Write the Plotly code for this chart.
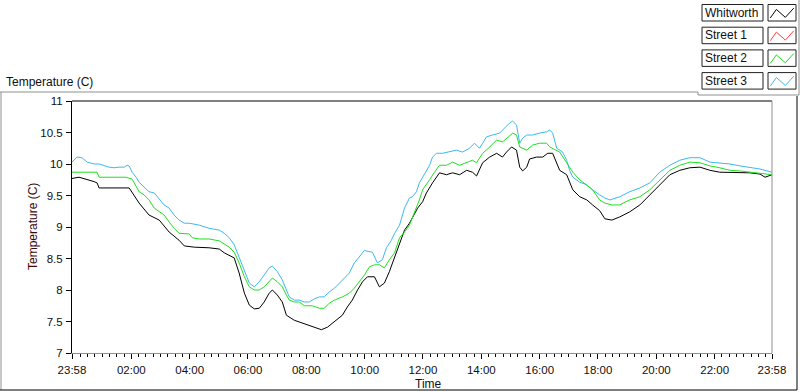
import plotly.graph_objects as go

# ---------------- data (hours elapsed since 23:58, temperature in C) ----------------
series_names = ["Whitworth", "Street 1", "Street 2", "Street 3"]
series_colors = ["#000000", "#ff3c3c", "#1ee01e", "#3cb8f5"]

whit_t = [0, 0.24, 0.76, 0.86, 0.93, 1.96, 2.30, 2.64, 2.99, 3.33, 3.67, 3.85, 4.19, 4.70, 5.05, 5.22,
          5.56, 5.73, 5.91, 6.08, 6.25, 6.42, 6.59, 6.76, 6.87, 7.04, 7.21, 7.35, 7.62, 7.97, 8.31, 8.55,
          8.76, 9.00, 9.27, 9.44, 9.61, 9.79, 9.96, 10.13, 10.37, 10.54, 10.71, 10.88, 11.06, 11.23, 11.40,
          11.57, 11.85, 12.02, 12.15, 12.36, 12.60, 12.84, 13.05, 13.29, 13.53, 13.73, 13.87, 14.08, 14.32,
          14.56, 14.76, 14.90, 15.07, 15.24, 15.35, 15.45, 15.59, 15.69, 15.93, 16.14, 16.31, 16.48, 16.62,
          16.72, 16.96, 17.17, 17.41, 17.65, 17.85, 18.09, 18.27, 18.51, 18.78, 19.12, 19.47, 19.81, 20.15,
          20.50, 20.84, 21.18, 21.53, 21.87, 22.21, 22.56, 22.90, 23.24, 23.59, 23.76, 24.0]
whit_v = [9.77, 9.79, 9.72, 9.70, 9.62, 9.62, 9.38, 9.19, 9.11, 8.92, 8.79, 8.70, 8.68, 8.67, 8.65, 8.59,
          8.51, 8.27, 7.95, 7.76, 7.70, 7.71, 7.81, 7.95, 8.00, 7.92, 7.81, 7.60, 7.52, 7.46, 7.40, 7.37,
          7.41, 7.50, 7.60, 7.73, 7.84, 8.00, 8.13, 8.21, 8.21, 8.05, 8.11, 8.29, 8.52, 8.75, 8.95,
          9.06, 9.30, 9.40, 9.54, 9.70, 9.86, 9.83, 9.86, 9.83, 9.90, 9.87, 9.81, 10.02, 10.11,
          10.17, 10.11, 10.19, 10.27, 10.22, 9.95, 9.89, 9.95, 10.08, 10.11, 10.11, 10.17, 10.17, 10.02,
          9.90, 9.83, 9.59, 9.48, 9.43, 9.35, 9.26, 9.13, 9.11, 9.16, 9.24, 9.35, 9.51, 9.67,
          9.83, 9.90, 9.94, 9.95, 9.90, 9.87, 9.87, 9.86, 9.86, 9.84, 9.79, 9.83]

street1_t = []
street1_v = []

street2_t = [0, 0.86, 0.93, 1.85, 2.06, 2.13, 2.30, 2.47, 2.64, 2.82, 2.99, 3.16, 3.33, 3.50, 3.67, 4.02,
             4.12, 4.36, 4.70, 5.05, 5.22, 5.39, 5.56, 5.73, 5.91, 6.08, 6.25, 6.42, 6.59, 6.76, 6.87,
             7.04, 7.21, 7.35, 7.45, 7.62, 7.79, 7.97, 8.24, 8.48, 8.65, 8.82, 9.00, 9.27, 9.51, 9.68,
             9.85, 10.03, 10.20, 10.37, 10.54, 10.71, 10.88, 11.06, 11.23, 11.40, 11.57, 11.81, 11.91,
             12.02, 12.15, 12.26, 12.43, 12.60, 12.84, 13.05, 13.29, 13.53, 13.73, 13.87, 14.08, 14.32,
             14.56, 14.76, 14.90, 15.11, 15.24, 15.35, 15.59, 15.79, 16.03, 16.27, 16.38, 16.48, 16.72,
             16.96, 17.17, 17.41, 17.65, 17.85, 18.09, 18.27, 18.51, 18.78, 19.12, 19.47, 19.81, 20.15,
             20.50, 20.84, 21.18, 21.53, 21.87, 22.21, 22.56, 22.90, 23.24, 23.59, 24.0]
street2_v = [9.87, 9.87, 9.79, 9.79, 9.76, 9.70, 9.56, 9.51, 9.43, 9.30, 9.24, 9.19, 9.08, 8.98, 8.90, 8.89,
             8.83, 8.81, 8.81, 8.78, 8.73, 8.68, 8.60, 8.43, 8.21, 8.05, 8.00, 8.00, 8.05, 8.13, 8.19,
             8.13, 8.05, 7.92, 7.84, 7.81, 7.81, 7.75, 7.75, 7.71, 7.71, 7.79, 7.84, 7.89, 7.95, 8.03,
             8.13, 8.24, 8.37, 8.40, 8.40, 8.35, 8.48, 8.59, 8.83, 8.92, 9.03, 9.30, 9.43,
             9.59, 9.67, 9.75, 9.87, 9.98, 9.98, 10.03, 9.98, 10.02, 10.06, 10.02, 10.17, 10.27,
             10.38, 10.35, 10.41, 10.49, 10.46, 10.27, 10.22, 10.30, 10.33, 10.33, 10.27, 10.25, 10.19,
             10.02, 9.87, 9.75, 9.67, 9.59, 9.43, 9.38, 9.35, 9.35, 9.43, 9.48, 9.59, 9.75,
             9.90, 9.98, 10.03, 10.02, 9.97, 9.94, 9.90, 9.89, 9.87, 9.86, 9.83]

street3_t = [0, 0.17, 0.34, 0.52, 0.76, 0.93, 1.27, 1.44, 1.61, 1.79, 1.89, 1.96, 2.06, 2.20, 2.30, 2.47,
             2.64, 2.82, 2.99, 3.16, 3.33, 3.50, 3.67, 3.85, 4.02, 4.36, 4.70, 5.05, 5.22, 5.39, 5.56,
             5.73, 5.91, 6.08, 6.25, 6.42, 6.59, 6.76, 6.87, 7.04, 7.21, 7.35, 7.45, 7.62, 7.79, 7.97,
             8.14, 8.31, 8.48, 8.65, 8.82, 9.00, 9.27, 9.51, 9.68, 9.85, 10.03, 10.09, 10.30, 10.47,
             10.64, 10.78, 10.95, 11.06, 11.23, 11.40, 11.57, 11.67, 11.81, 11.91, 12.02, 12.15, 12.26,
             12.36, 12.50, 12.70, 12.94, 13.18, 13.39, 13.63, 13.80, 13.97, 14.08, 14.21, 14.42, 14.66,
             14.83, 15.00, 15.11, 15.24, 15.35, 15.45, 15.59, 15.79, 16.03, 16.27, 16.38, 16.48, 16.62,
             16.72, 16.82, 16.96, 17.06, 17.17, 17.41, 17.65, 17.85, 18.09, 18.27, 18.44, 18.78, 19.12,
             19.47, 19.81, 20.15, 20.50, 20.84, 21.18, 21.53, 21.87, 22.21, 22.56, 22.90, 23.24, 23.59, 24.0]
street3_v = [10.03, 10.11, 10.10, 10.03, 10.00, 10.00, 9.95, 9.94, 9.95, 9.95, 9.98, 9.97, 9.87, 9.79, 9.71, 9.63,
             9.56, 9.54, 9.44, 9.35, 9.30, 9.19, 9.11, 9.06, 9.06, 9.03, 8.98, 8.95, 8.90, 8.83, 8.72,
             8.52, 8.32, 8.11, 8.05, 8.13, 8.24, 8.35, 8.38, 8.29, 8.16, 8.00, 7.89, 7.84, 7.84, 7.81,
             7.81, 7.86, 7.89, 7.89, 7.97, 8.03, 8.16, 8.27, 8.43, 8.52, 8.63, 8.62, 8.60, 8.43,
             8.48, 8.67, 8.79, 8.90, 9.03, 9.30, 9.46, 9.48, 9.56, 9.70, 9.79, 9.90, 9.98,
             10.11, 10.17, 10.17, 10.19, 10.22, 10.19, 10.25, 10.33, 10.25, 10.33, 10.43, 10.46, 10.49,
             10.57, 10.65, 10.68, 10.62, 10.33, 10.41, 10.46, 10.46, 10.49, 10.51, 10.54, 10.49, 10.25,
             10.22, 10.19, 10.06, 9.90, 9.79, 9.71, 9.67, 9.59, 9.51, 9.46, 9.43, 9.48, 9.56,
             9.62, 9.70, 9.87, 9.98, 10.06, 10.10, 10.10, 10.03, 10.02, 10.00, 9.97, 9.94, 9.92, 9.87]

x_tick_labels = ["23:58", "02:00", "04:00", "06:00", "08:00", "10:00", "12:00",
                 "14:00", "16:00", "18:00", "20:00", "22:00", "23:58"]
y_tick_labels = ["7", "7.5", "8", "8.5", "9", "9.5", "10", "10.5", "11"]
y_title = "Temperature (C)"
x_title = "Time"
chart_title = "Temperature (C)"

# ---------------- figure ----------------
W, H = 800, 392
L, R, T, B = 72, 772, 101, 353  # plot area in pixels


def px(x):
    return (x - L) / (R - L)


def py(y):
    return (B - y) / (B - T)


start_min = 23 * 60 + 58
x_tick_vals = []
for i, lab in enumerate(x_tick_labels):
    h, m = map(int, lab.split(":"))
    off = ((h * 60 + m) - start_min) % 1440 / 60.0
    if i == len(x_tick_labels) - 1:
        off = 24.0
    x_tick_vals.append(off)
y_tick_vals = [float(v) for v in y_tick_labels]

font_family = "Liberation Sans, Arial, sans-serif"
txt = "#101010"

fig = go.Figure()
data = [(whit_t, whit_v), (street1_t, street1_v), (street2_t, street2_v), (street3_t, street3_v)]
order = [3, 0, 1, 2]
for i in order:
    t, v = data[i]
    fig.add_trace(go.Scatter(x=t, y=v, mode="lines", name=series_names[i],
                             line=dict(color=series_colors[i], width=1), showlegend=False,
                             hoverinfo="skip"))

fig.update_layout(
    width=W, height=H, autosize=False,
    margin=dict(l=L, r=W - R, t=T, b=H - B, pad=0),
    paper_bgcolor="white", plot_bgcolor="white",
    font=dict(family=font_family, size=12, color=txt),
    showlegend=False,
)

fig.update_xaxes(
    range=[0, 24], showgrid=False, zeroline=False,
    showline=True, linecolor="#909090", linewidth=1,
    tickmode="array", tickvals=x_tick_vals, ticktext=x_tick_labels,
    ticks="outside", ticklen=5, tickwidth=1, tickcolor="black",
    tickfont=dict(size=11.5, color=txt), ticklabelstandoff=1,
    minor=dict(ticks="outside", ticklen=3, tickwidth=1, tickcolor="black",
               tick0=x_tick_vals[1] % 0.25, dtick=0.25, showgrid=False),
)
fig.update_yaxes(
    range=[7, 11], showgrid=False, zeroline=False,
    showline=True, linecolor="black", linewidth=1,
    tickmode="array", tickvals=y_tick_vals, ticktext=y_tick_labels,
    ticks="outside", ticklen=5, tickwidth=1, tickcolor="black",
    tickfont=dict(size=11.5, color=txt), ticklabelstandoff=1,
)

shapes = []


def line(x0, y0, x1, y1, color, width=1):
    shapes.append(dict(type="line", xref="paper", yref="paper",
                       x0=px(x0), y0=py(y0), x1=px(x1), y1=py(y1),
                       line=dict(color=color, width=width)))


# plot area borders: top black, right gray
line(L, T, R, T, "black")
line(R, T, R, B, "#909090")
# outer panel frame
line(0, 92, 698, 92, "#909090")
line(698, 92, 698, 95, "#909090")
line(698, 95, 799, 95, "#909090")
line(799, 0, 799, 95, "#909090")
line(1, 92, 1, 390, "#909090")
line(0, 390, 797, 390, "black")
line(797, 96, 797, 390, "black")

annotations = [
    dict(text=chart_title, xref="paper", yref="paper", x=px(4), y=py(82),
         xanchor="left", yanchor="middle", showarrow=False,
         font=dict(size=12, color=txt)),
    dict(text=y_title, xref="paper", yref="paper", x=px(33), y=py(227),
         xanchor="center", yanchor="middle", textangle=-90, showarrow=False,
         font=dict(size=12, color="#3a0808")),
    dict(text=x_title, xref="paper", yref="paper", x=px(428), y=py(384),
         xanchor="center", yanchor="middle", showarrow=False,
         font=dict(size=12, color=txt)),
]

# legend drawn as LabVIEW style boxes
row_tops = [4.5, 27.2, 49.9, 72.6]
row_h = 16.5
for i, name in enumerate(series_names):
    top = row_tops[i]
    bot = top + row_h
    shapes.append(dict(type="rect", xref="paper", yref="paper",
                       x0=px(702), x1=px(763), y0=py(bot), y1=py(top),
                       line=dict(color="#202020", width=1), fillcolor="white"))
    shapes.append(dict(type="rect", xref="paper", yref="paper",
                       x0=px(768), x1=px(796), y0=py(bot), y1=py(top),
                       line=dict(color="#202020", width=1), fillcolor="white"))
    zx = [0.08, 0.30, 0.62, 0.92]
    zy = [0.82, 0.30, 0.78, 0.22]
    pts = [(px(768 + 28 * a), py(top + row_h * b)) for a, b in zip(zx, zy)]
    path = "M " + " L ".join(f"{a},{b}" for a, b in pts)
    shapes.append(dict(type="path", xref="paper", yref="paper", path=path,
                       line=dict(color=series_colors[i], width=1)))
    annotations.append(dict(text=name, xref="paper", yref="paper",
                            x=px(703), y=py(top + row_h / 2), xanchor="left", yanchor="middle",
                            showarrow=False, font=dict(size=12, color=txt)))

fig.update_layout(shapes=shapes, annotations=annotations)

fig.write_html("out.html", config={"displayModeBar": False},
               post_script="document.body.style.margin='0px';document.body.style.overflow='hidden';")
